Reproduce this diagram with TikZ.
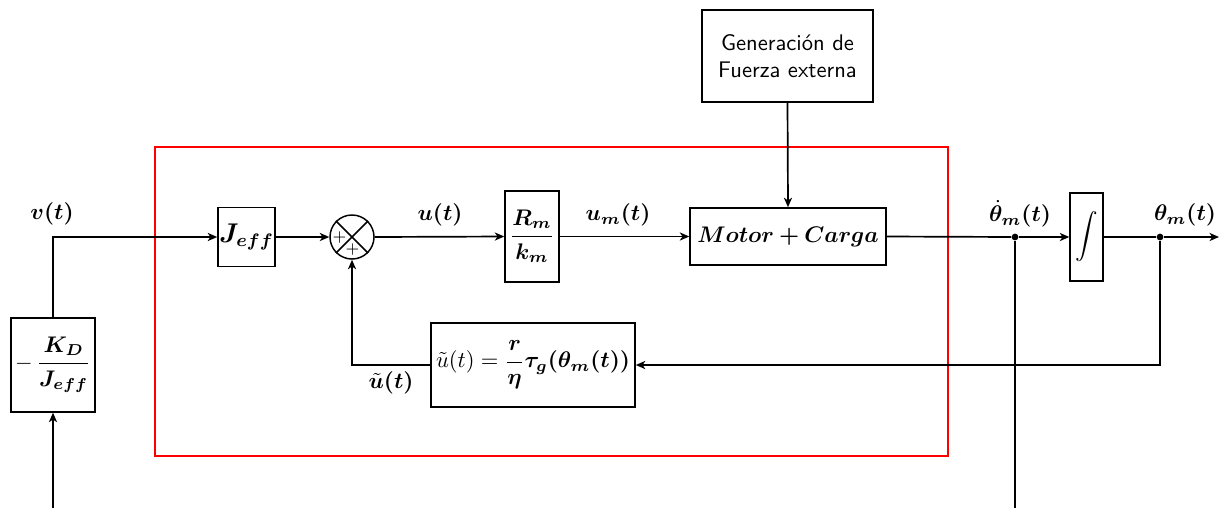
\documentclass[tikz,border=0pt]{standalone}
\usepackage{fontspec}
\usepackage{amsmath}
\usepackage{bm}
\usetikzlibrary{arrows.meta,calc}
\begin{document}
\begin{tikzpicture}[x=0.443pt,y=-0.443pt,
  conn/.style={line width=0.75pt},
  arr/.style={conn,-{Stealth[length=4.2pt,width=3.6pt,inset=1.2pt]}},
  blk/.style={draw,line width=0.65pt,inner sep=0pt,align=center},
  lbl/.style={inner sep=0pt},
  dot/.style={circle,fill,inner sep=0pt,minimum size=3pt}]
\useasboundingbox (0,0) rectangle (1227,507);
% red frame
\draw[red,line width=0.6pt] (155,147) rectangle (948,456);
% blocks
\node[blk,minimum width=37.2pt,minimum height=41.6pt] (kd) at (53,365) {$-\,\bm{\dfrac{K_D}{J_{eff}}}$};
\node[blk,minimum width=25.3pt,minimum height=26.1pt,font=\large] (jeff) at (246.5,237) {$\bm{J_{eff}}$};
\node[draw,circle,line width=0.65pt,inner sep=0pt,minimum size=19.5pt] (sum) at (352,237) {};
\draw[line width=0.65pt] (sum.north west) -- (sum.south east) (sum.north east) -- (sum.south west);
\node[lbl,font=\scriptsize] (sp1) at ($(sum.center)+(-12.5,0.5)$) {$+$};
\node[lbl,font=\scriptsize] (sp2) at ($(sum.center)+(0.5,12.5)$) {$+$};
\node[blk,minimum width=23.9pt,minimum height=40.3pt] (rk) at (532,236.5) {$\bm{\dfrac{R_m}{k_m}}$};
\node[blk,minimum width=86.8pt,minimum height=25.3pt] (mot) at (788,236.5) {$\bm{Motor+Carga}$};
\node[blk,minimum width=75.8pt,minimum height=40.8pt,font=\sffamily] (gen) at (787.5,56) {Generación de\\Fuerza externa};
\node[blk,minimum width=14.6pt,minimum height=39pt] (int) at (1086.5,237) {$\displaystyle\int$};
\node[blk,minimum width=90.4pt,minimum height=37.2pt] (fb) at (533,365) {$\tilde{u}(t)=\bm{\dfrac{r}{\eta}\tau_g(\theta_m(t))}$};
% points
\node[dot] (d1) at (1015,237) {};
\node[dot] (d2) at (1160,237) {};
\coordinate (out) at (1219,237);
\coordinate (bot) at (1015,509.5);
% labels
\node[lbl] (lv) at (52,214) {$\bm{v(t)}$};
\node[lbl] (lu) at (440,215) {$\bm{u(t)}$};
\node[lbl] (lum) at (618,215) {$\bm{u_m(t)}$};
\node[lbl] (lth1) at (1020,214) {$\bm{\dot\theta_m(t)}$};
\node[lbl] (lth2) at (1185,215) {$\bm{\theta_m(t)}$};
\node[lbl] (lut) at (391,383) {$\bm{\tilde u(t)}$};
% connectors
\draw[arr] (kd.north) |- (jeff.west);
\draw[arr] (jeff.east) -- (sum.west);
\draw[arr] (sum.east) -- (rk.west);
\draw[arr] (rk.east) -- (mot.west);
\draw[arr] (gen.south) -- (mot.north);
\draw[conn] (mot.east) -- (d1);
\draw[arr] (d1) -- (int.west);
\draw[conn] (int.east) -- (d2);
\draw[arr] (d2) -- (out);
\draw[arr] (d2) |- (fb.east);
\draw[arr] (fb.west) -| (sum.south);
\draw[arr] (d1) -- (bot) -| (kd.south);
\end{tikzpicture}
\end{document}
